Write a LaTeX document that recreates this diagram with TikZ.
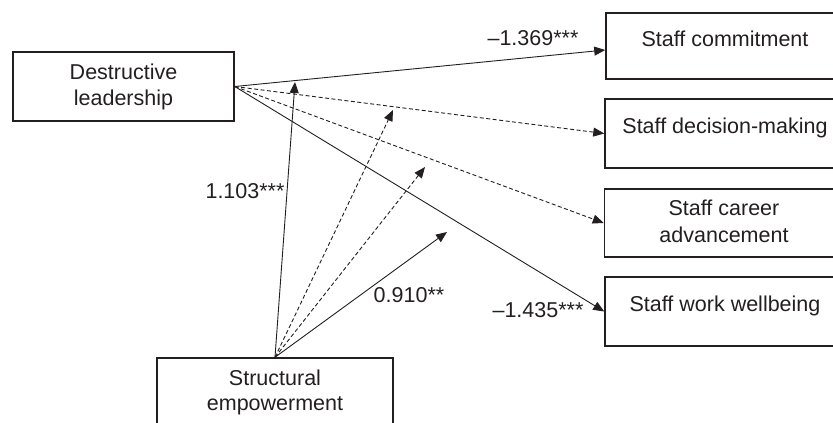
\documentclass[tikz,border=0pt]{standalone}
\usepackage{fontspec}
\setmainfont{Liberation Sans}
\usetikzlibrary{arrows.meta}
\definecolor{ink}{HTML}{231F20}
\begin{document}
\begin{tikzpicture}[x=1pt,y=-1pt,
  every node/.style={text=ink, font=\fontsize{21.5}{26}\selectfont},
  box/.style={draw=ink, line width=1.5pt, inner sep=0pt, minimum width=240},
  txt/.style={anchor=base, align=center, inner sep=0pt},
  path/.style={draw=ink, line width=0.9pt, -{Triangle[length=11pt,width=9pt]}},
  nsig/.style={path, dash pattern=on 4pt off 2.5pt}]
\useasboundingbox (0,0) rectangle (833,423);

% boxes
\node[box, minimum width=221, minimum height=69] (dl) at (123.5,86.5) {};
\node[box, minimum width=236, minimum height=82] (se) at (275,399) {};
\node[box, minimum width=239, minimum height=66] (sc) at (725.5,46) {};
\node[box, minimum height=69] (sd) at (725,133.5) {};
\node[box, minimum height=68] (sa) at (724.5,223) {};
\node[box, minimum height=69] (sw) at (725,311.5) {};

% box texts
\node[txt] (dlt1) at (123.5,79) {Destructive};
\node[txt] (dlt2) at (123.5,105) {leadership};
\node[txt] (set1) at (275,385) {Structural};
\node[txt] (set2) at (275,410) {empowerment};
\node[txt] (sct) at (725,46.5) {Staff commitment};
\node[txt] (sdt) at (725,133) {Staff decision-making};
\node[txt] (sat1) at (724,215) {Staff career};
\node[txt] (sat2) at (724,242) {advancement};
\node[txt] (swt) at (725,311) {Staff work wellbeing};

% points where the moderating paths end
\coordinate (m1) at (295,82);
\coordinate (m2) at (393,110);
\coordinate (m3) at (425,167);
\coordinate (m4) at (447,232);

% direct paths
\draw[path] (dl.east) -- ([yshift=-4pt]sc.west);
\draw[nsig] (dl.east) -- (sd.west);
\draw[nsig] (dl.east) -- (sa.west);
\draw[path] (dl.east) -- (sw.west);

% moderating paths
\draw[path] (se.north) -- (m1);
\draw[nsig] (se.north) -- (m2);
\draw[nsig] (se.north) -- (m3);
\draw[path] (se.north) -- (m4);

% coefficients
\node[txt] (c1) at (533,45) {–1.369***};
\node[txt] (c2) at (245,198) {1.103***};
\node[txt] (c3) at (409,302) {0.910**};
\node[txt] (c4) at (538,317) {–1.435***};
\end{tikzpicture}
\end{document}
